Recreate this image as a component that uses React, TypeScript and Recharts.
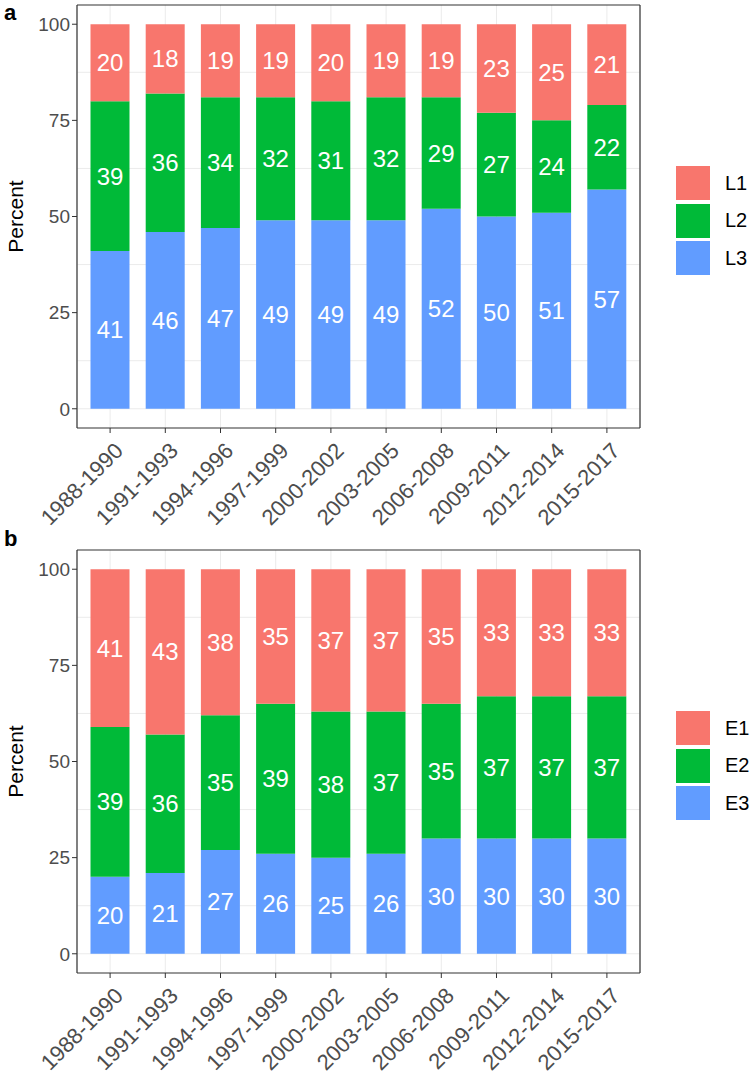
import {
    BarChart,
    Bar,
    XAxis,
    YAxis,
    CartesianGrid,
    Legend,
    LabelList,
} from 'recharts';

const periods = [
    '1988-1990', '1991-1993', '1994-1996', '1997-1999', '2000-2002',
    '2003-2005', '2006-2008', '2009-2011', '2012-2014', '2015-2017',
];

// panel a
const l1 = [20, 18, 19, 19, 20, 19, 19, 23, 25, 21];
const l2 = [39, 36, 34, 32, 31, 32, 29, 27, 24, 22];
const l3 = [41, 46, 47, 49, 49, 49, 52, 50, 51, 57];

// panel b
const e1 = [41, 43, 38, 35, 37, 37, 35, 33, 33, 33];
const e2 = [39, 36, 35, 39, 38, 37, 35, 37, 37, 37];
const e3 = [20, 21, 27, 26, 25, 26, 30, 30, 30, 30];

const yTicks = [0, 25, 50, 75, 100];
const yMinor = [12.5, 37.5, 62.5, 87.5];

const COLORS = ['#F8766D', '#00BA38', '#619CFF'];
const FONT = '"Liberation Sans", Arial, sans-serif';

interface PanelProps {
    names: string[];      // top -> bottom, as in the legend
    series: number[][];   // same order as names
    top: number;
}

function SlantTick(props: any) {
    const { x, y, payload } = props;
    return (
        <g transform={`translate(${x + 3},${y + 6})`}>
            <text
                transform="rotate(-45)"
                textAnchor="end"
                dy="0.72em"
                fontSize={22}
                fill="#4D4D4D"
            >
                {payload.value}
            </text>
        </g>
    );
}

function KeyBox({ names }: { names: string[] }) {
    return (
        <div style={{ fontFamily: FONT }}>
            {names.map((n, i) => (
                <div
                    key={n}
                    style={{ display: 'flex', alignItems: 'center', height: 34, marginBottom: 3.5 }}
                >
                    <div style={{ width: 34, height: 34, background: COLORS[i] }} />
                    <span style={{ marginLeft: 15, fontSize: 20, color: '#000' }}>{n}</span>
                </div>
            ))}
        </div>
    );
}

function Panel({ names, series, top }: PanelProps) {
    const rows = periods.map((p, i) => {
        const row: Record<string, number | string> = { period: p };
        names.forEach((n, k) => {
            row[n] = series[k][i];
        });
        return row;
    });

    // bottom of the stack first
    const stackOrder = names.map((n, k) => ({ n, k })).reverse();

    return (
        <div style={{ position: 'absolute', left: 0, top }}>
            <BarChart
                width={750}
                height={540}
                data={rows}
                margin={{ top: 4, right: 109, bottom: 12, left: 17 }}
            >
                <CartesianGrid
                    stroke="#EBEBEB"
                    horizontalValues={[...yTicks, ...yMinor]}
                />
                <XAxis
                    dataKey="period"
                    height={100}
                    padding={{ left: 5.5, right: 5.5 }}
                    interval={0}
                    tick={<SlantTick />}
                    tickSize={5}
                    tickLine={{ stroke: '#333333' }}
                    axisLine={{ stroke: '#333333', strokeWidth: 1.2 }}
                />
                {/* top edge of the panel border */}
                <XAxis
                    xAxisId="top"
                    orientation="top"
                    dataKey="period"
                    height={1}
                    tick={false}
                    tickLine={false}
                    axisLine={{ stroke: '#333333', strokeWidth: 1.2 }}
                />
                <YAxis
                    type="number"
                    domain={[-5, 105]}
                    ticks={yTicks}
                    allowDataOverflow
                    width={60}
                    tickSize={5}
                    tick={{ fontSize: 19, fill: '#4D4D4D' }}
                    tickLine={{ stroke: '#333333' }}
                    axisLine={{ stroke: '#333333', strokeWidth: 1.2 }}
                    label={(p: any) => {
                        const vb = p.viewBox;
                        const x = vb.x + 6;
                        const y = vb.y + vb.height / 2;
                        return (
                            <text
                                x={x}
                                y={y}
                                transform={`rotate(-90, ${x}, ${y})`}
                                textAnchor="middle"
                                fontSize={21}
                                fill="#000"
                            >
                                Percent
                            </text>
                        );
                    }}
                />
                {/* right edge of the panel border */}
                <YAxis
                    yAxisId="right"
                    orientation="right"
                    type="number"
                    domain={[-5, 105]}
                    allowDataOverflow
                    width={1}
                    tick={false}
                    tickLine={false}
                    axisLine={{ stroke: '#333333', strokeWidth: 1.2 }}
                />
                <Legend
                    layout="vertical"
                    align="center"
                    verticalAlign="middle"
                    wrapperStyle={{ left: 676, top: 166, width: 74 }}
                    content={() => <KeyBox names={names} />}
                />
                {stackOrder.map(({ n, k }) => (
                    <Bar
                        key={n}
                        dataKey={n}
                        stackId="s"
                        fill={COLORS[k]}
                        barSize={39}
                        isAnimationActive={false}
                    >
                        <LabelList
                            dataKey={n}
                            position="center"
                            fill="#FFFFFF"
                            fontSize={24}
                        />
                    </Bar>
                ))}
            </BarChart>
        </div>
    );
}

export default function App() {
    return (
        <div
            style={{
                position: 'absolute',
                left: 0,
                top: 0,
                width: 750,
                height: 1074,
                overflow: 'hidden',
                background: '#fff',
                fontFamily: FONT,
            }}
        >
            <Panel names={['L1', 'L2', 'L3']} series={[l1, l2, l3]} top={0} />
            <Panel names={['E1', 'E2', 'E3']} series={[e1, e2, e3]} top={545} />
            <div style={{ position: 'absolute', left: 4, top: 2, fontSize: 22, fontWeight: 'bold', lineHeight: '22px' }}>
                a
            </div>
            <div style={{ position: 'absolute', left: 4, top: 528, fontSize: 22, fontWeight: 'bold', lineHeight: '22px' }}>
                b
            </div>
        </div>
    );
}
